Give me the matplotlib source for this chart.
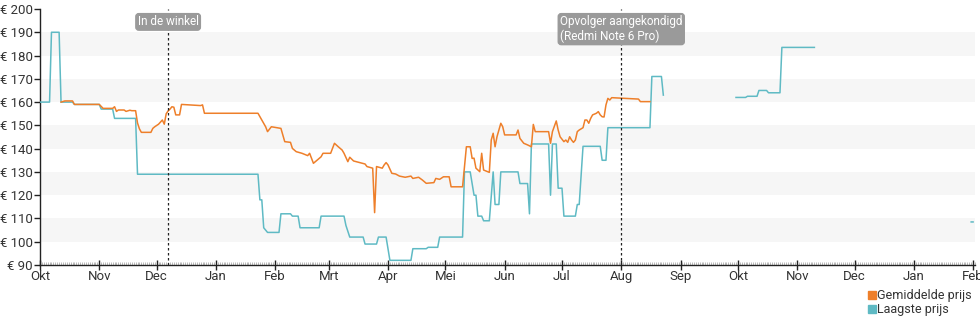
import matplotlib
matplotlib.use("Agg")
import matplotlib.pyplot as plt
import matplotlib.dates as mdates
import matplotlib.transforms as mtransforms
from matplotlib.lines import Line2D
import numpy as np
import pandas as pd

plt.rcParams["font.family"] = ["Roboto", "DejaVu Sans"]

# prijsverloop (datum, prijs in euro)
gemiddelde = [
    ("2017-10-12", 160), ("2017-10-14", 160.5), ("2017-10-18", 160.5), ("2017-10-19", 159),
    ("2017-11-01", 159), ("2017-11-03", 157.3), ("2017-11-08", 157.3), ("2017-11-09", 158),
    ("2017-11-10", 156), ("2017-11-11", 156.6), ("2017-11-14", 156.6), ("2017-11-15", 156),
    ("2017-11-17", 156.5), ("2017-11-18", 156.3), ("2017-11-20", 156.3), ("2017-11-21", 151),
    ("2017-11-22", 148.5), ("2017-11-23", 147), ("2017-11-28", 147), ("2017-11-29", 148.7),
    ("2017-11-30", 149.4), ("2017-12-02", 150.5), ("2017-12-04", 152.3), ("2017-12-05", 150.5),
    ("2017-12-06", 155), ("2017-12-07", 156.2), ("2017-12-08", 157), ("2017-12-09", 158),
    ("2017-12-10", 157.8), ("2017-12-11", 154.5), ("2017-12-13", 154.5), ("2017-12-14", 159),
    ("2017-12-24", 158.5), ("2017-12-25", 158.8), ("2017-12-26", 155.2), ("2018-01-23", 155.2),
    ("2018-01-25", 152.3), ("2018-01-26", 150.9), ("2018-01-27", 149.4), ("2018-01-28", 147.3),
    ("2018-01-30", 149.4), ("2018-02-04", 148.7), ("2018-02-05", 145.9), ("2018-02-06", 143),
    ("2018-02-09", 142.7), ("2018-02-10", 140.1), ("2018-02-12", 138.7), ("2018-02-15", 138),
    ("2018-02-18", 137), ("2018-02-19", 138), ("2018-02-20", 135.8), ("2018-02-21", 133.7),
    ("2018-02-22", 134.4), ("2018-02-25", 136.5), ("2018-02-26", 138), ("2018-03-02", 138),
    ("2018-03-04", 142.3), ("2018-03-06", 140.8), ("2018-03-08", 139.4), ("2018-03-09", 138),
    ("2018-03-11", 134.4), ("2018-03-12", 136.3), ("2018-03-14", 134.7), ("2018-03-20", 133.4),
    ("2018-03-21", 132.3), ("2018-03-24", 131.6), ("2018-03-25", 112.5), ("2018-03-26", 132.3),
    ("2018-03-29", 131.6), ("2018-03-30", 133), ("2018-03-31", 134), ("2018-04-01", 133),
    ("2018-04-02", 131.2), ("2018-04-03", 129.4), ("2018-04-05", 129.1), ("2018-04-07", 128.2),
    ("2018-04-10", 127.7), ("2018-04-13", 128.2), ("2018-04-14", 127.2), ("2018-04-17", 127.7),
    ("2018-04-19", 126.5), ("2018-04-21", 125.1), ("2018-04-25", 125.4), ("2018-04-26", 127.2),
    ("2018-04-28", 126.8), ("2018-04-30", 127.9), ("2018-05-03", 127.9), ("2018-05-04", 123.6),
    ("2018-05-10", 123.6), ("2018-05-12", 140.8), ("2018-05-14", 140.8), ("2018-05-15", 135.8),
    ("2018-05-16", 135.9), ("2018-05-17", 131.6), ("2018-05-19", 130.1), ("2018-05-20", 138),
    ("2018-05-21", 130.8), ("2018-05-24", 129.8), ("2018-05-25", 143.7), ("2018-05-26", 146.6),
    ("2018-05-27", 140.8), ("2018-05-28", 145.1), ("2018-05-30", 150.9), ("2018-05-31", 149.4),
    ("2018-06-01", 145.9), ("2018-06-07", 145.9), ("2018-06-08", 148), ("2018-06-09", 144.4),
    ("2018-06-11", 142.3), ("2018-06-13", 141.6), ("2018-06-15", 140.8), ("2018-06-16", 150.4),
    ("2018-06-17", 147.3), ("2018-06-24", 147.3), ("2018-06-25", 142.3), ("2018-06-26", 147.3),
    ("2018-06-28", 151.9), ("2018-06-29", 148), ("2018-06-30", 145.1), ("2018-07-02", 143),
    ("2018-07-03", 143.7), ("2018-07-04", 142.7), ("2018-07-05", 145.1), ("2018-07-06", 143.7),
    ("2018-07-07", 142.7), ("2018-07-08", 143.7), ("2018-07-09", 147.3), ("2018-07-10", 148),
    ("2018-07-12", 149), ("2018-07-13", 152.3), ("2018-07-14", 152.3), ("2018-07-15", 150.9),
    ("2018-07-16", 153), ("2018-07-17", 154.5), ("2018-07-19", 155.2), ("2018-07-20", 155.9),
    ("2018-07-21", 154.5), ("2018-07-22", 153.7), ("2018-07-23", 153.6), ("2018-07-24", 158.8),
    ("2018-07-25", 161.6), ("2018-07-26", 160.9), ("2018-07-27", 161.9), ("2018-08-10", 161.3),
    ("2018-08-11", 160.2), ("2018-08-16", 160.2),
]

laagste = [
    ("2017-10-01", 160), ("2017-10-06", 160), ("2017-10-07", 190), ("2017-10-11", 190),
    ("2017-10-12", 160), ("2017-10-18", 160), ("2017-10-19", 159), ("2017-11-01", 159),
    ("2017-11-02", 157), ("2017-11-08", 157), ("2017-11-09", 153), ("2017-11-20", 153),
    ("2017-11-21", 129), ("2018-01-23", 129), ("2018-01-24", 118), ("2018-01-25", 118),
    ("2018-01-26", 106), ("2018-01-28", 104), ("2018-02-03", 104), ("2018-02-04", 112),
    ("2018-02-09", 112), ("2018-02-10", 111), ("2018-02-13", 111), ("2018-02-14", 106),
    ("2018-02-24", 106), ("2018-02-25", 111), ("2018-03-09", 111), ("2018-03-10", 107),
    ("2018-03-12", 102), ("2018-03-19", 102), ("2018-03-20", 99), ("2018-03-26", 99),
    ("2018-03-27", 102), ("2018-03-31", 102), ("2018-04-02", 92), ("2018-04-13", 92),
    ("2018-04-14", 97), ("2018-04-21", 97), ("2018-04-22", 97.6), ("2018-04-27", 97.6),
    ("2018-04-28", 102), ("2018-05-10", 102), ("2018-05-11", 130), ("2018-05-14", 130),
    ("2018-05-16", 120), ("2018-05-17", 120), ("2018-05-18", 111), ("2018-05-20", 111),
    ("2018-05-21", 109), ("2018-05-24", 109), ("2018-05-26", 130), ("2018-05-27", 116),
    ("2018-05-29", 116), ("2018-05-30", 130), ("2018-06-08", 130), ("2018-06-09", 125),
    ("2018-06-13", 125), ("2018-06-14", 112), ("2018-06-15", 142), ("2018-06-24", 142),
    ("2018-06-25", 120), ("2018-06-26", 142), ("2018-06-28", 142), ("2018-06-29", 123),
    ("2018-07-01", 123), ("2018-07-02", 111), ("2018-07-08", 111), ("2018-07-09", 116),
    ("2018-07-10", 116), ("2018-07-12", 141), ("2018-07-21", 141), ("2018-07-22", 135),
    ("2018-07-24", 135), ("2018-07-25", 149), ("2018-08-16", 149), ("2018-08-17", 171),
    ("2018-08-22", 171), ("2018-08-23", 163), ("2018-09-01", np.nan),
    ("2018-09-30", 162), ("2018-10-05", 162), ("2018-10-06", 162.5), ("2018-10-11", 162.5),
    ("2018-10-12", 165), ("2018-10-16", 165), ("2018-10-17", 164), ("2018-10-23", 164),
    ("2018-10-24", 183.5), ("2018-11-10", 183.5), ("2018-11-20", np.nan),
    ("2019-01-31", 108.5), ("2019-02-01", 108.5),
]

gebeurtenissen = [
    ("2017-12-07", "In de winkel"),
    ("2018-08-01", "Opvolger aangekondigd\n(Redmi Note 6 Pro)"),
]

maanden = ["Jan", "Feb", "Mrt", "Apr", "Mei", "Jun", "Jul", "Aug", "Sep", "Okt", "Nov", "Dec"]

kleur_gem = "#ee7f2a"
kleur_laag = "#5fbac4"


def naar_reeks(paren):
    d = pd.to_datetime([p[0] for p in paren])
    v = np.array([p[1] for p in paren], dtype=float)
    return d, v


fig = plt.figure(figsize=(9.8, 3.25), dpi=100)
ax = fig.add_axes([40 / 980, 1 - 265 / 325, 935 / 980, 256 / 325])

# afwisselende grijze banden
for lo in range(100, 200, 20):
    ax.axhspan(lo, lo + 10, color="#f6f6f6", lw=0, zorder=0)

d, v = naar_reeks(laagste)
ax.plot(d, v, color=kleur_laag, lw=1.1, zorder=3)
d, v = naar_reeks(gemiddelde)
ax.plot(d, v, color=kleur_gem, lw=1.1, zorder=4)

ax.set_xlim(pd.Timestamp("2017-10-01"), pd.Timestamp("2019-02-02"))
ax.set_ylim(90, 200)
ax.set_yticks(range(90, 201, 10))
ax.yaxis.set_major_formatter(plt.FuncFormatter(lambda y, _: f"€ {y:.0f}"))

ax.xaxis.set_major_locator(mdates.MonthLocator())
ax.xaxis.set_major_formatter(plt.FuncFormatter(lambda x, _: maanden[mdates.num2date(x).month - 1]))
ax.xaxis.set_minor_locator(mdates.DayLocator())

for s in ["top", "right"]:
    ax.spines[s].set_visible(False)
for s in ["left", "bottom"]:
    ax.spines[s].set_color("#222222")
    ax.spines[s].set_linewidth(1.0)

ax.tick_params(axis="y", length=4, width=1, color="#222222", labelsize=9.5,
               labelcolor="#333333", pad=1)
ax.tick_params(axis="x", which="major", direction="inout", length=7, width=1,
               color="#222222", labelsize=9.5, labelcolor="#333333", pad=0)
ax.tick_params(axis="x", which="minor", direction="in", length=2, width=0.4, color="#888888")

# gebeurtenissen met stippellijn en label
trans = mtransforms.blended_transform_factory(ax.transData, ax.transAxes)
for datum, tekst in gebeurtenissen:
    x = pd.Timestamp(datum)
    ax.axvline(x, color="#222222", lw=0.9, ls=(0, (2, 2)), zorder=5)
    ax.text(x, 0.975, tekst, transform=trans, ha="center", va="top",
            multialignment="left", color="white", fontsize=8.5, linespacing=1.1,
            zorder=6,
            bbox=dict(boxstyle="round,pad=0.15,rounding_size=0.25",
                      fc="#9a9a9a", ec="#9a9a9a"))

handles = [
    Line2D([], [], marker="s", ls="none", color=kleur_gem, markersize=5.5),
    Line2D([], [], marker="s", ls="none", color=kleur_laag, markersize=5.5),
]
fig.legend(handles, ["Gemiddelde prijs", "Laagste prijs"], loc="lower right",
           bbox_to_anchor=(1.0, 0.0), frameon=False, fontsize=9,
           handletextpad=0.1, labelspacing=0.1, handlelength=0.6,
           borderaxespad=0.3, labelcolor="#333333")

fig.savefig("out.png", dpi=100)
